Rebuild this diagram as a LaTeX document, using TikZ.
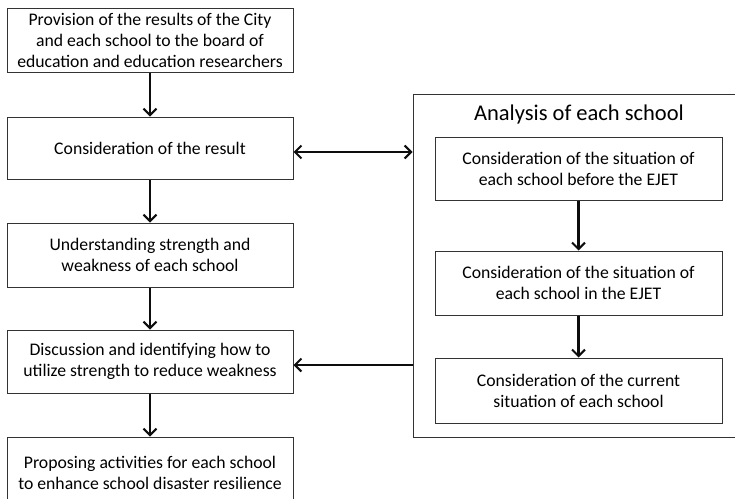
\documentclass[tikz,border=0pt]{standalone}
\usepackage{fontspec}
\setmainfont{Carlito}
\usetikzlibrary{arrows.meta}
\begin{document}
\begin{tikzpicture}[x=1pt,y=-1pt,
  >={Straight Barb[length=6.5pt,width=13pt,line width=2pt]},
  box/.style={draw=black!80,line width=1pt,rectangle,align=center,
    font=\fontsize{17.7}{21}\selectfont,inner sep=0pt},
  flow/.style={->,line width=2.1pt,black!95},
  both/.style={<->,line width=2.1pt,black!95}]
\useasboundingbox (0,0) rectangle (735,498);
\clip (0,0) rectangle (735,498);
% left column
\node[box,minimum width=286pt,minimum height=64pt] (b1) at (150,40)
  {Provision of the results of the City\\and each school to the board of\\education and education researchers};
\node[box,minimum width=286pt,minimum height=62pt] (b2) at (150,148)
  {Consideration of the result};
\node[box,minimum width=286pt,minimum height=64pt] (b3) at (150,255)
  {Understanding strength and\\weakness of each school};
\node[box,minimum width=286pt,minimum height=63pt] (b4) at (150,361.5)
  {Discussion and identifying how to\\utilize strength to reduce weakness};
\node[box,minimum width=286pt,minimum height=72pt] (b5) at (150,473)
  {Proposing activities for each school\\to enhance school disaster resilience};
% right group
\node[box,minimum width=350pt,minimum height=343pt] (grp) at (588,265.5) {};
\node[font=\fontsize{22.5}{26}\selectfont,inner sep=0pt] (title) at (579,114) {Analysis of each school};
\node[box,minimum width=287pt,minimum height=63pt] (r1) at (578.5,168.5)
  {Consideration of the situation of\\each school before the EJET};
\node[box,minimum width=287pt,minimum height=64pt] (r2) at (578.5,283)
  {Consideration of the situation of\\each school in the EJET};
\node[box,minimum width=287pt,minimum height=65pt] (r3) at (578.5,390.5)
  {Consideration of the current\\situation of each school};
% connectors
\coordinate (ya) at (0,152);
\coordinate (yb) at (0,365);
\draw[flow] (b1) -- (b2);
\draw[flow] (b2) -- (b3);
\draw[flow] (b3) -- (b4);
\draw[flow] (b4) -- (b5);
\draw[flow] (r1) -- (r2);
\draw[flow] (r2) -- (r3);
\draw[both] (b2.east |- ya) -- (grp.west |- ya);
\draw[flow] (grp.west |- yb) -- (b4.east |- yb);
\end{tikzpicture}
\end{document}
